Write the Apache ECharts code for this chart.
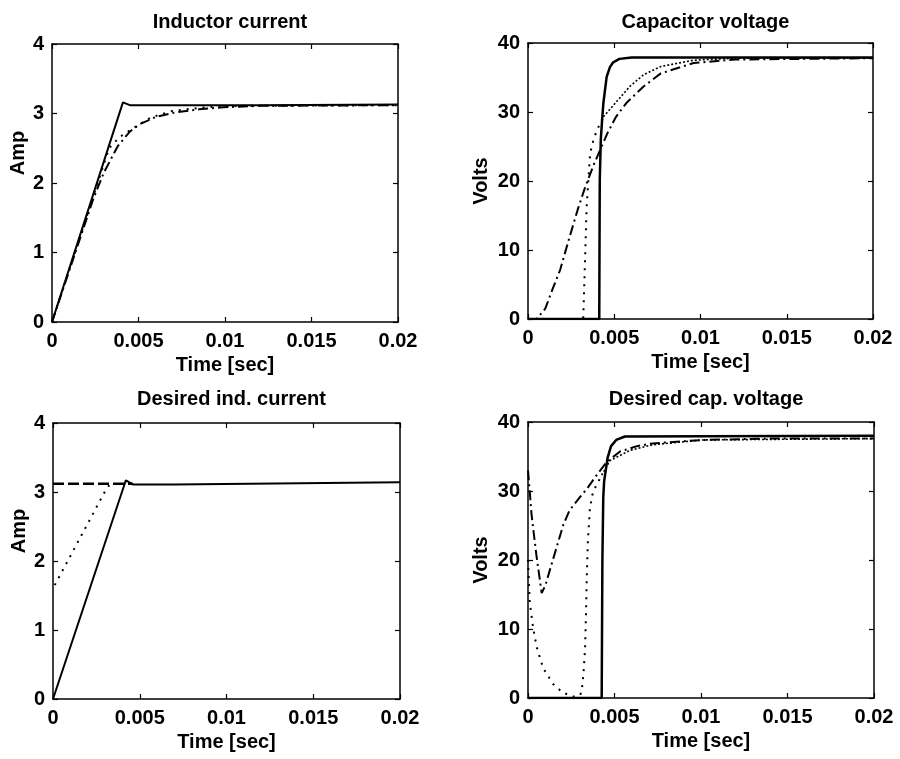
<!DOCTYPE html>
<html>
<head>
<meta charset="utf-8">
<script src="https://cdn.jsdelivr.net/npm/echarts@6/dist/echarts.min.js"></script>
<style>
html,body{margin:0;padding:0;background:#fff;}
#chart{width:900px;height:759px;}
</style>
</head>
<body>
<div id="chart"></div>
<script>
// ---------- data ----------
const panelTitles = ['Inductor current', 'Capacitor voltage', 'Desired ind. current', 'Desired cap. voltage'];
const yNames = ['Amp', 'Volts', 'Amp', 'Volts'];
const xName = 'Time [sec]';
const xTickLabels = ['0', '0.005', '0.01', '0.015', '0.02'];
const ampTicks = ['0', '1', '2', '3', '4'];
const voltTicks = ['0', '10', '20', '30', '40'];

// Panel 1: Inductor current (t [s], A)
const indSolid = [[0,0],[0.0041,3.16],[0.0045,3.12],[0.007,3.12],[0.012,3.12],[0.02,3.13]];
const indDotted = [[0,0],[0.0033,2.5],[0.0039,2.66],[0.0049,2.82],[0.0057,2.94],[0.007,3.04],[0.0089,3.09],[0.011,3.11],[0.02,3.12]];
const indDashDot = [[0,0],[0.0024,1.78],[0.003,2.15],[0.0038,2.53],[0.0045,2.74],[0.0051,2.85],[0.006,2.95],[0.007,3.01],[0.0085,3.06],[0.0099,3.09],[0.012,3.11],[0.02,3.12]];

// Panel 2: Capacitor voltage (t [s], V)
const capSolid = [[0,0],[0.00413,0],[0.00416,20],[0.00422,26],[0.0043,29],[0.00437,31.3],[0.00456,35.1],[0.00475,36.5],[0.00494,37.2],[0.0053,37.7],[0.006,37.9],[0.02,37.9]];
const capDottedRise = [[0,0],[0.0032,0],[0.0033,8],[0.0034,16.3],[0.0036,24],[0.0038,26],[0.004,27.4],[0.00437,29.3]];
const capDottedSettle = [[0.00437,29.3],[0.0052,31.7],[0.0059,33.7],[0.0067,35.4],[0.0077,36.6],[0.0096,37.5],[0.012,37.8],[0.02,37.8]];
const capDashDot = [[0,0],[0.0005,0],[0.001,1.5],[0.00145,4.5],[0.00186,7.1],[0.0024,11.8],[0.0029,16],[0.0033,19],[0.0038,22.3],[0.00427,25],[0.0046,26.9],[0.0051,29.3],[0.0057,31.3],[0.0067,33.7],[0.0077,35.6],[0.0096,37.1],[0.012,37.6],[0.02,37.8]];

// Panel 3: Desired inductor current
const dIndSolid = [[0,0],[0.0042,3.17],[0.0046,3.11],[0.007,3.11],[0.02,3.14]];
const dIndDashed = [[0,3.12],[0.0046,3.12]];
const dIndDotted = [[0.0001,1.65],[0.003,3.01],[0.0033,3.12]];

// Panel 4: Desired capacitor voltage
const dCapSolid = [[0,0],[0.00426,0],[0.0043,20],[0.00435,29],[0.0044,31.4],[0.0046,34.8],[0.0048,36.5],[0.0051,37.4],[0.0056,37.9],[0.02,38]];
const dCapDottedRise = [[0,20],[0.0001,13.9],[0.0003,10.1],[0.0005,7.4],[0.00088,4.3],[0.00146,2.0],[0.002,0.8],[0.0026,0.2],[0.003,0.4],[0.0031,0.9],[0.0032,3.3],[0.0033,7.2],[0.00335,12],[0.0034,17.8],[0.00346,22.7],[0.00358,27.5],[0.00376,29.9],[0.00426,32.3]];
const dCapDottedSettle = [[0.00426,32.3],[0.00474,34.4],[0.0059,35.9],[0.0072,36.7],[0.0101,37.4],[0.02,37.6]];
const dCapDashDot = [[0,33],[0.0001,30],[0.0002,26.7],[0.00048,20.8],[0.00079,15.2],[0.001,16.3],[0.00146,20.2],[0.00204,25.1],[0.0024,27.2],[0.003,29.1],[0.0034,30.3],[0.00397,32.3],[0.00455,34.2],[0.0053,35.7],[0.0063,36.5],[0.0072,36.9],[0.0101,37.4],[0.014,37.6],[0.02,37.6]];

// ---------- layout ----------
const FONT = '"Liberation Sans", Arial, Helvetica, sans-serif';
const grids = [
  {left: 52, top: 44, width: 346, height: 278},
  {left: 528, top: 43, width: 345, height: 276},
  {left: 53, top: 423, width: 347, height: 276},
  {left: 528, top: 422, width: 346, height: 276}
];
const yMax = [4, 40, 4, 40];
const yInt = [1, 10, 1, 10];
const yTickSets = [ampTicks, voltTicks, ampTicks, voltTicks];

const xAxes = [], yAxes = [], titles = [];
const axisLineStyle = {color: '#000', width: 1.5};
grids.forEach((g, i) => {
  titles.push({
    text: panelTitles[i],
    left: g.left + g.width / 2,
    top: i < 2 ? 7 : 384,
    textAlign: 'center',
    textStyle: {fontFamily: FONT, fontSize: 20, fontWeight: 'bold', color: '#000'}
  });
  const xBase = {
    type: 'value', gridIndex: i, min: 0, max: 0.02, interval: 0.005,
    axisLine: {show: true, onZero: false, lineStyle: axisLineStyle},
    axisTick: {show: true, inside: true, length: 5, lineStyle: {color: '#000', width: 1.2}},
    splitLine: {show: false}
  };
  xAxes.push(Object.assign({}, xBase, {
    position: 'bottom',
    name: xName, nameLocation: 'middle', nameGap: 33,
    nameTextStyle: {fontFamily: FONT, fontSize: 20, fontWeight: 'bold', color: '#000'},
    axisLabel: {show: true, margin: 9, fontFamily: FONT, fontSize: 20, fontWeight: 'bold', color: '#000',
      formatter: v => xTickLabels[Math.round(v / 0.005)]}
  }));
  xAxes.push(Object.assign({}, xBase, {position: 'top', axisLabel: {show: false}}));
  const yBase = {
    type: 'value', gridIndex: i, min: 0, max: yMax[i], interval: yInt[i],
    axisLine: {show: true, onZero: false, lineStyle: axisLineStyle},
    axisTick: {show: true, inside: true, length: 5, lineStyle: {color: '#000', width: 1.2}},
    splitLine: {show: false}
  };
  const ticks = yTickSets[i];
  yAxes.push(Object.assign({}, yBase, {
    position: 'left',
    name: yNames[i], nameLocation: 'middle', nameRotate: 90,
    nameGap: i % 2 === 0 ? 20 : 37,
    nameTextStyle: {fontFamily: FONT, fontSize: 20, fontWeight: 'bold', color: '#000',
      padding: i % 2 === 0 ? [0, 0, 0, 60] : [0, 0, 0, 0]},
    axisLabel: {show: true, margin: 8, fontFamily: FONT, fontSize: 20, fontWeight: 'bold', color: '#000',
      formatter: v => ticks[Math.round(v / yInt[i])]}
  }));
  yAxes.push(Object.assign({}, yBase, {position: 'right', axisLabel: {show: false}}));
});

function mk(data, panel, style) {
  return {
    type: 'line', data: data, xAxisIndex: panel * 2, yAxisIndex: panel * 2,
    symbol: 'none', showSymbol: false, smooth: false, clip: true,
    lineStyle: Object.assign({color: '#000', width: 2}, style),
    silent: true
  };
}
const SOLID = {type: 'solid', width: 2};
const DOT = {type: [2, 6], width: 2, cap: 'butt'};
const DOT_DENSE = {type: [2, 2], width: 1.6, cap: 'butt'};
const DASHDOT = {type: [10, 4, 2, 4], width: 2};
const DASH = {type: [11, 4], width: 2.5};

const series = [
  mk(indDotted, 0, DOT), mk(indDashDot, 0, DASHDOT), mk(indSolid, 0, SOLID),
  mk(capDottedRise, 1, DOT), mk(capDottedSettle, 1, DOT_DENSE), mk(capDashDot, 1, DASHDOT), mk(capSolid, 1, {type: 'solid', width: 2.5}),
  mk(dIndDotted, 2, DOT), mk(dIndDashed, 2, DASH), mk(dIndSolid, 2, SOLID),
  mk(dCapDottedRise, 3, DOT), mk(dCapDottedSettle, 3, DOT_DENSE), mk(dCapDashDot, 3, DASHDOT), mk(dCapSolid, 3, {type: 'solid', width: 2.5})
];

const chart = echarts.init(document.getElementById('chart'), null, {renderer: 'canvas'});
chart.setOption({
  animation: false,
  backgroundColor: '#fff',
  title: titles,
  grid: grids.map(g => Object.assign({containLabel: false}, g)),
  xAxis: xAxes,
  yAxis: yAxes,
  series: series
});
</script>
</body>
</html>
